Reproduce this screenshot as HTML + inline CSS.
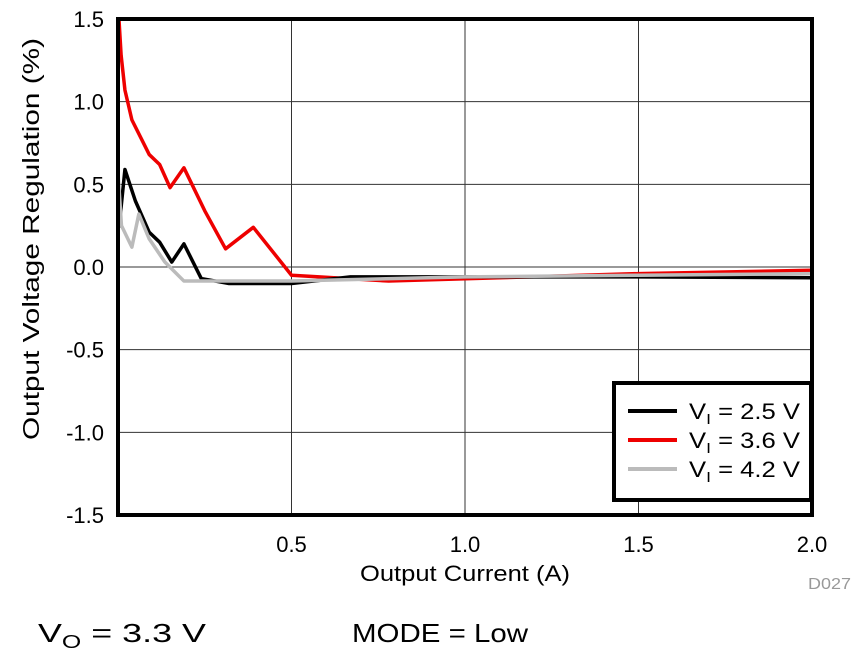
<!DOCTYPE html>
<html><head><meta charset="utf-8"><style>
body{margin:0;background:#fff;width:858px;height:663px;overflow:hidden;font-family:"Liberation Sans",Arial,sans-serif}
svg text{font-family:"Liberation Sans",Arial,sans-serif}
</style></head><body>
<svg width="858" height="663">
<g id="grid"></g>
<g id="series"></g>
<rect x="118" y="19" width="694" height="496" fill="none" stroke="#000" stroke-width="4"/>
<g id="ticks"></g>
<text x="360" y="581" font-size="22" textLength="210" lengthAdjust="spacingAndGlyphs">Output Current (A)</text>
<text transform="translate(39,440) rotate(-90)" font-size="23" textLength="402" lengthAdjust="spacingAndGlyphs">Output Voltage Regulation (%)</text>
<text x="808" y="589" font-size="16" fill="#999" textLength="43" lengthAdjust="spacingAndGlyphs">D027</text>
<text x="38" y="642" font-size="26" textLength="168" lengthAdjust="spacingAndGlyphs">V<tspan font-size="18" dy="6">O</tspan><tspan dy="-6"> = 3.3 V</tspan></text>
<text x="352" y="642" font-size="26" textLength="176" lengthAdjust="spacingAndGlyphs">MODE = Low</text>
<g>
<rect x="614" y="383" width="197" height="117" fill="#fff" stroke="#000" stroke-width="4"/>
<line x1="628" x2="677" y1="411" y2="411" stroke="#000" stroke-width="4"/>
<line x1="628" x2="677" y1="440" y2="440" stroke="#e00" stroke-width="4"/>
<line x1="628" x2="677" y1="469" y2="469" stroke="#bbb" stroke-width="4"/>
<text x="689" y="419" font-size="22" textLength="111" lengthAdjust="spacingAndGlyphs">V<tspan font-size="15" dy="5">I</tspan><tspan dy="-5"> = 2.5 V</tspan></text>
<text x="689" y="448" font-size="22" textLength="111" lengthAdjust="spacingAndGlyphs">V<tspan font-size="15" dy="5">I</tspan><tspan dy="-5"> = 3.6 V</tspan></text>
<text x="689" y="477" font-size="22" textLength="111" lengthAdjust="spacingAndGlyphs">V<tspan font-size="15" dy="5">I</tspan><tspan dy="-5"> = 4.2 V</tspan></text>
</g>
</svg>
<script>
const xTicks=[0.5,1.0,1.5,2.0];
const xTickLabels=["0.5","1.0","1.5","2.0"];
const yTicks=[1.5,1.0,0.5,0.0,-0.5,-1.0,-1.5];
const yTickLabels=["1.5","1.0","0.5","0.0","-0.5","-1.0","-1.5"];
const redX=[0.003,0.009,0.02,0.04,0.09,0.12,0.15,0.19,0.25,0.31,0.39,0.50,0.58,0.78,1.1,1.5,2.0];
const redY=[1.49,1.28,1.07,0.89,0.68,0.62,0.48,0.60,0.34,0.11,0.24,-0.05,-0.06,-0.085,-0.065,-0.04,-0.02];
const blackX=[0.003,0.02,0.05,0.09,0.12,0.155,0.19,0.24,0.32,0.5,0.67,1.0,1.5,2.0];
const blackY=[0.24,0.59,0.40,0.21,0.15,0.03,0.14,-0.07,-0.10,-0.10,-0.06,-0.06,-0.06,-0.065];
const grayX=[0.0,0.01,0.04,0.06,0.09,0.135,0.19,0.5,1.0,1.5,2.0];
const grayY=[0.57,0.25,0.12,0.32,0.17,0.03,-0.085,-0.085,-0.06,-0.05,-0.04];
const NS="http://www.w3.org/2000/svg";
const sx=v=>118+v*347, sy=v=>267-v*165.33;
const grid=document.getElementById('grid'),ticks=document.getElementById('ticks'),ser=document.getElementById('series');
function mk(tag,attrs,parent){const e=document.createElementNS(NS,tag);for(const k in attrs)e.setAttribute(k,attrs[k]);parent.appendChild(e);return e;}
xTicks.forEach((v,i)=>{
 const l=mk('line',{x1:sx(v),x2:sx(v),y1:19,y2:515,stroke:'#333','stroke-width':1},grid);
 
 
 const t=mk('text',{x:sx(v),y:552,'font-size':22,'text-anchor':'middle'},ticks);t.textContent=xTickLabels[i];
 
 
});
yTicks.forEach((v,i)=>{
 const l=mk('line',{x1:118,x2:812,y1:sy(v),y2:sy(v),stroke:'#333','stroke-width':1},grid);
 
 
 const t=mk('text',{x:104,y:sy(v)+8,'font-size':22,'text-anchor':'end'},ticks);t.textContent=yTickLabels[i];
 
 
});
function line(xs,ys,color,name){
 const p=mk('polyline',{points:xs.map((x,i)=>sx(x)+','+sy(ys[i])).join(' '),fill:'none',stroke:color,'stroke-width':3.5,'stroke-linejoin':'round'},ser);
 
 
}
line(redX,redY,'#e00','series-3.6v');
line(blackX,blackY,'#000','series-2.5v');
line(grayX,grayY,'#bbb','series-4.2v');
</script>
</body></html>
